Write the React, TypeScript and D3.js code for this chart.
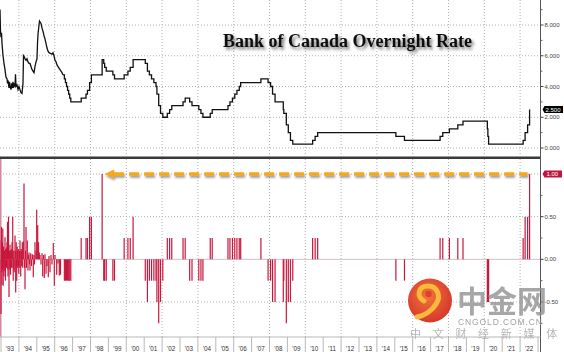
import React from 'react';
import * as d3 from 'd3';

const W = 564;
const H = 352;

// Overnight market rate (pre-target era), decimal years / percent
const marketDates = [
  1992.944, 1992.972, 1993.0, 1993.028, 1993.056, 1993.112, 1993.168, 1993.223, 1993.279, 1993.335,
  1993.363, 1993.391, 1993.447, 1993.475, 1993.503, 1993.559, 1993.587, 1993.615, 1993.67, 1993.698,
  1993.726, 1993.782, 1993.81, 1993.838, 1993.894, 1993.95, 1994.006, 1994.061, 1994.117, 1994.173,
  1994.229, 1994.257, 1994.313, 1994.341, 1994.397, 1994.453, 1994.508, 1994.564, 1994.62, 1994.676,
  1994.732, 1994.788, 1994.844, 1994.899, 1994.955, 1995.011, 1995.039, 1995.067, 1995.123, 1995.151,
  1995.235, 1995.291, 1995.346, 1995.402, 1995.458, 1995.514, 1995.57, 1995.626, 1995.682, 1995.849,
  1995.905, 1995.961, 1996.017, 1996.073, 1996.128, 1996.24, 1996.352, 1996.408, 1996.464,
];
const marketRates = [
  9.0, 7.6, 7.2, 7.5, 6.8, 6.0, 5.5, 5.1, 4.6, 4.5,
  4.2, 4.4, 3.9, 4.3, 4.0, 3.8, 4.2, 3.9, 4.3, 3.9,
  4.2, 4.0, 4.8, 4.0, 4.1, 3.8, 4.0, 3.8, 3.6, 3.55,
  4.2, 6.0, 5.9, 5.8, 5.7, 5.8, 5.6, 5.5, 5.5, 5.3,
  5.1, 5.0, 4.9, 5.3, 5.6, 5.8, 6.8, 7.4, 8.0, 8.25,
  8.1, 7.8, 7.6, 7.3, 7.1, 6.8, 6.5, 6.3, 6.2, 6.1,
  6.2, 6.0, 5.7, 5.6, 5.4, 5.2, 5.0, 4.9, 4.75,
];

// Target overnight rate (step series), decimal years / percent
const targetDates = [
  1996.464, 1996.54, 1996.6, 1996.66, 1996.72, 1996.78, 1996.84, 1996.9,
  1997.48, 1997.75, 1997.83, 1997.95, 1998.05,
  1998.65, 1998.74, 1998.79, 1998.88, 1999.25, 1999.34,
  1999.88, 2000.09, 2000.22, 2000.38,
  2001.06, 2001.18, 2001.29, 2001.41, 2001.54, 2001.66, 2001.71, 2001.81, 2001.91, 2002.04,
  2002.29, 2002.42, 2002.54, 2003.17, 2003.29,
  2003.54, 2003.67, 2004.05, 2004.17, 2004.28,
  2004.69, 2004.8, 2005.68, 2005.79, 2005.93, 2006.06, 2006.18, 2006.31, 2006.39, 2007.52,
  2007.92, 2008.06, 2008.17, 2008.31, 2008.77, 2008.8, 2008.94, 2009.05, 2009.17, 2009.3,
  2010.41, 2010.55, 2010.69,
  2015.06, 2015.54,
  2017.53, 2017.68, 2018.05, 2018.52, 2018.81,
  2020.17, 2020.2, 2020.24,
  2022.17, 2022.28, 2022.42, 2022.53,
];
const targetRates = [
  4.75, 4.5, 4.25, 4.0, 3.75, 3.5, 3.25, 3.0,
  3.25, 3.5, 3.75, 4.25, 4.75,
  5.75, 5.5, 5.25, 5.0, 4.75, 4.5,
  4.75, 5.0, 5.25, 5.75,
  5.5, 5.0, 4.75, 4.5, 4.25, 4.0, 3.5, 2.75, 2.25, 2.0,
  2.25, 2.5, 2.75, 3.0, 3.25,
  3.0, 2.75, 2.5, 2.25, 2.0,
  2.25, 2.5, 2.75, 3.0, 3.25, 3.5, 3.75, 4.0, 4.25, 4.5,
  4.25, 4.0, 3.5, 3.0, 2.5, 2.25, 1.5, 1.0, 0.5, 0.25,
  0.5, 0.75, 1.0,
  0.75, 0.5,
  0.75, 1.0, 1.25, 1.5, 1.75,
  1.25, 0.75, 0.25,
  0.5, 1.0, 1.5, 2.5,
];

// Rate changes (bottom panel), decimal years / percentage points
const barDates = [
  1993.0, 1993.014, 1993.028, 1993.042, 1993.056, 1993.078, 1993.09, 1993.101, 1993.112, 1993.123,
  1993.145, 1993.157, 1993.168, 1993.196, 1993.21, 1993.223, 1993.251, 1993.265, 1993.279, 1993.307,
  1993.321, 1993.335, 1993.363, 1993.377, 1993.391, 1993.419, 1993.433, 1993.447, 1993.475, 1993.489,
  1993.503, 1993.531, 1993.545, 1993.559, 1993.587, 1993.601, 1993.615, 1993.654, 1993.668, 1993.682,
  1993.709, 1993.723, 1993.737, 1993.782, 1993.8, 1993.821, 1993.849, 1993.863, 1993.877, 1993.905,
  1993.919, 1993.933, 1993.966, 1993.98, 1993.994, 1994.034, 1994.048, 1994.061, 1994.101, 1994.115,
  1994.128, 1994.156, 1994.17, 1994.19, 1994.212, 1994.246, 1994.285, 1994.313, 1994.341, 1994.369,
  1994.397, 1994.425, 1994.469, 1994.508, 1994.536, 1994.564, 1994.59, 1994.62, 1994.659, 1994.704,
  1994.743, 1994.77, 1994.804, 1994.844, 1994.87, 1994.899, 1994.955, 1994.994, 1995.05, 1995.095,
  1995.14, 1995.179, 1995.235, 1995.291, 1995.33, 1995.374, 1995.419, 1995.458, 1995.514, 1995.57,
  1995.642, 1995.682, 1995.737, 1995.793, 1995.849, 1995.922, 1995.978, 1996.017, 1996.112, 1996.184,
  1996.257, 1996.324,
  1996.54, 1996.6, 1996.66, 1996.72, 1996.78, 1996.84, 1996.9,
  1997.48, 1997.75, 1997.83, 1997.95, 1998.05,
  1998.65, 1998.74, 1998.79, 1998.88, 1999.25, 1999.34,
  1999.88, 2000.09, 2000.22, 2000.38,
  2001.06, 2001.18, 2001.29, 2001.41, 2001.54, 2001.66, 2001.71, 2001.81, 2001.91, 2002.04,
  2002.29, 2002.42, 2002.54, 2003.17, 2003.29,
  2003.54, 2003.67, 2004.05, 2004.17, 2004.28,
  2004.69, 2004.8, 2005.68, 2005.79, 2005.93, 2006.06, 2006.18, 2006.31, 2006.39, 2007.52,
  2007.92, 2008.06, 2008.17, 2008.31, 2008.77, 2008.8, 2008.94, 2009.05, 2009.17, 2009.3,
  2010.41, 2010.55, 2010.69,
  2015.06, 2015.54,
  2017.53, 2017.68, 2018.05, 2018.52, 2018.81,
  2020.17, 2020.2, 2020.24,
  2022.17, 2022.28, 2022.42, 2022.53,
];
const barValues = [
  -0.64, 0.22, 0.38, -0.15, -0.3, 0.2, -0.12, 0.36, 0.1, -0.31,
  0.15, -0.1, -0.2, 0.1, -0.14, 0.26, -0.25, 0.12, 0.12, -0.1,
  0.14, 0.2, 0.44, -0.12, -0.2, 0.5, 0.1, -0.44, 0.1, -0.12,
  0.17, -0.18, 0.11, 0.08, -0.1, 0.12, 0.2, 0.5, -0.1, -0.25,
  0.1, -0.12, -0.15, 0.28, 0.1, -0.39, 0.2, -0.1, -0.25, 0.15,
  0.1, -0.1, 0.12, -0.08, -0.17, 0.1, -0.1, 0.22, -0.2, 0.1,
  0.12, -0.08, 0.1, 0.2, -0.1, 0.21, 0.89, -0.1, -0.35, 0.1,
  0.38, -0.1, 0.22, -0.13, 0.05, 0.08, -0.06, -0.13, 0.07, -0.08,
  0.06, 0.05, -0.21, 0.05, -0.06, 0.2, 0.1, 0.58, 0.4, 0.2,
  0.08, 0.05, -0.06, 0.07, -0.2, 0.05, -0.22, 0.06, -0.17, -0.08,
  -0.21, 0.04, -0.15, 0.05, -0.06, 0.19, -0.31, 0.05, -0.18, -0.05,
  -0.19, -0.18,
  -0.25, -0.25, -0.25, -0.25, -0.25, -0.25, -0.25,
  0.25, 0.25, 0.25, 0.5, 0.5,
  1.0, -0.25, -0.25, -0.25, -0.25, -0.25,
  0.25, 0.25, 0.25, 0.5,
  -0.25, -0.5, -0.25, -0.25, -0.25, -0.25, -0.5, -0.75, -0.5, -0.25,
  0.25, 0.25, 0.25, 0.25, 0.25,
  -0.25, -0.25, -0.25, -0.25, -0.25,
  0.25, 0.25, 0.25, 0.25, 0.25, 0.25, 0.25, 0.25, 0.25, 0.25,
  -0.25, -0.25, -0.5, -0.5, -0.5, -0.25, -0.75, -0.5, -0.5, -0.25,
  0.25, 0.25, 0.25,
  -0.25, -0.25,
  0.25, 0.25, 0.25, 0.25, 0.25,
  -0.5, -0.5, -0.5,
  0.25, 0.5, 0.5, 1.0,
];

const years = d3.range(1993, 2023);
const yearLabels = years.map((y) => "'" + String(y).slice(2));
const gridYears = d3.range(1994, 2023, 2);
const topTicks = [0, 2, 4, 6, 8];
const topTickLabels = ['0.000', '2.000', '4.000', '6.000', '8.000'];
const topMinor = [1, 3, 5, 7, 9];
const bottomTicks = [-0.5, 0, 0.5];
const bottomTickLabels = ['-0.50', '0.00', '0.50'];
const bottomMinor = [-0.75, -0.25, 0.25, 0.75];
const lastRate = 2.5;
const lastRateLabel = '2.500';
const lastChange = 1.0;
const lastChangeLabel = '1.00';
const title = 'Bank of Canada Overnight Rate';
const wmTitle = '中金网';
const wmSite = 'CNGOLD.COM.CN';
const wmSlogan = ['中', '文', '财', '经', '新', '媒', '体'];

const x = d3.scaleLinear().domain([1993, 2023]).range([1, 538]);
const yT = d3.scaleLinear().domain([0, 8]).range([148, 25]);
const yB = d3.scaleLinear().domain([-0.5, 1.0]).range([302, 174]);

const AX = 540.5;
const TOP_BOTTOM = 156;
const BOT_TOP = 159;
const BOT_BOTTOM = 337;

export default function App() {
  const marketLine = d3
    .line<number>()
    .x((_, i) => x(marketDates[i]))
    .y((d) => yT(d))(marketRates) as string;
  const targetLine = d3
    .line<number>()
    .x((_, i) => x(targetDates[i]))
    .y((d) => yT(d))
    .curve(d3.curveStepAfter)(targetRates) as string;

  const tickFont = { fontFamily: 'Liberation Sans, Arial, sans-serif', fontSize: 6, fill: '#444' };
  const lastX = x(barDates[barDates.length - 1]);
  const spikeX = x(1998.65);

  return (
    <svg width={W} height={H} style={{ position: 'absolute', left: 0, top: 0, background: '#fff' }}>
      <defs>
        <filter id="tshadow" x="-10%" y="-30%" width="130%" height="180%">
          <feDropShadow dx="2" dy="2.5" stdDeviation="1.5" floodColor="#000" floodOpacity="0.55" />
        </filter>
        <filter id="ashadow" x="-5%" y="-100%" width="110%" height="400%">
          <feDropShadow dx="1" dy="2" stdDeviation="1" floodColor="#555" floodOpacity="0.6" />
        </filter>
        <radialGradient id="logoGrad" cx="45%" cy="40%" r="60%">
          <stop offset="0%" stopColor="#f26a2a" />
          <stop offset="100%" stopColor="#d2281c" />
        </radialGradient>
      </defs>
      <rect width={W} height={H} fill="#fff" />

      {/* top grid */}
      {topTicks.map((t) => (
        <line key={'th' + t} x1={0} x2={AX} y1={yT(t)} y2={yT(t)} stroke="#b0b0b0" strokeDasharray="1,2" />
      ))}
      {gridYears.map((g) => (
        <line key={'tv' + g} x1={x(g)} x2={x(g)} y1={0} y2={TOP_BOTTOM} stroke="#b0b0b0" strokeDasharray="1,2" />
      ))}

      {/* bottom grid */}
      {[-0.5, 0.5, 1.0].map((t) => (
        <line key={'bh' + t} x1={0} x2={AX} y1={yB(t)} y2={yB(t)} stroke="#b0b0b0" strokeDasharray="1,2" />
      ))}
      {gridYears.map((g) => (
        <line key={'bv' + g} x1={x(g)} x2={x(g)} y1={BOT_TOP} y2={BOT_BOTTOM} stroke="#b0b0b0" strokeDasharray="1,2" />
      ))}
      <line x1={0} x2={AX} y1={yB(0)} y2={yB(0)} stroke="#d9bcc4" strokeWidth={1} />

      {/* line */}
      <path d={marketLine} fill="none" stroke="#111" strokeWidth={1.3} />
      <path d={targetLine} fill="none" stroke="#111" strokeWidth={1.3} />

      {/* bars */}
      <line x1={0.75} x2={0.75} y1={BOT_TOP} y2={BOT_BOTTOM} stroke="#d48a9a" strokeWidth={1.5} />
      {barDates.map((d, i) => (
        <line
          key={'b' + i}
          x1={x(d)}
          x2={x(d)}
          y1={yB(0)}
          y2={yB(barValues[i])}
          stroke="#c8173d"
          strokeWidth={1.2}
        />
      ))}

      {/* separator */}
      <rect x={0} y={156.5} width={AX} height={2.5} fill="#3a3a3a" />

      {/* right axis */}
      <line x1={AX} x2={AX} y1={0} y2={H} stroke="#555" strokeWidth={1} />
      {topTicks.map((t, i) => (
        <g key={'tt' + t}>
          <line x1={AX} x2={AX + 3} y1={yT(t)} y2={yT(t)} stroke="#444" />
          <text x={AX + 4} y={yT(t) + 2} {...tickFont}>
            {topTickLabels[i]}
          </text>
        </g>
      ))}
      {topMinor.map((t) => (
        <line key={'tm' + t} x1={AX} x2={AX + 2} y1={yT(t)} y2={yT(t)} stroke="#666" />
      ))}
      {bottomTicks.map((t, i) => (
        <g key={'bt' + t}>
          <line x1={AX} x2={AX + 3} y1={yB(t)} y2={yB(t)} stroke="#444" />
          <text x={AX + 4} y={yB(t) + 2} {...tickFont}>
            {bottomTickLabels[i]}
          </text>
        </g>
      ))}
      {bottomMinor.map((t) => (
        <line key={'bm' + t} x1={AX} x2={AX + 2} y1={yB(t)} y2={yB(t)} stroke="#666" />
      ))}

      {/* last value tags */}
      <path
        d={`M${AX + 2},${yT(lastRate)} L${AX + 4},${yT(lastRate) - 3.5} L${W - 1},${yT(lastRate) - 3.5} L${W - 1},${yT(lastRate) + 3.5} L${AX + 4},${yT(lastRate) + 3.5} Z`}
        fill="#000"
      />
      <text x={AX + 5} y={yT(lastRate) + 2.2} {...tickFont} fill="#fff">
        {lastRateLabel}
      </text>
      <path
        d={`M${AX + 2},${yB(lastChange)} L${AX + 4},${yB(lastChange) - 3.5} L${W - 2},${yB(lastChange) - 3.5} L${W - 2},${yB(lastChange) + 3.5} L${AX + 4},${yB(lastChange) + 3.5} Z`}
        fill="#c0143c"
      />
      <text x={AX + 6} y={yB(lastChange) + 2.2} {...tickFont} fill="#fff">
        {lastChangeLabel}
      </text>

      {/* x axis */}
      <line x1={0} x2={AX} y1={BOT_BOTTOM} y2={BOT_BOTTOM} stroke="#b8b8b8" />
      {years.concat([2023]).map((yv) => (
        <line key={'xs' + yv} x1={x(yv)} x2={x(yv)} y1={BOT_BOTTOM} y2={H} stroke="#b8b8b8" />
      ))}
      {years.map((yv, i) => (
        <text
          key={'xl' + yv}
          x={x(yv + 0.5)}
          y={350.5}
          textAnchor="middle"
          {...tickFont}
          fontSize={6.3}
          fill="#333"
        >
          {yearLabels[i]}
        </text>
      ))}

      {/* title */}
      <text
        x={223}
        y={47}
        fontFamily="Liberation Serif, Times New Roman, serif"
        fontWeight="bold"
        fontSize={18}
        fill="#111"
        filter="url(#tshadow)"
      >
        {title}
      </text>

      {/* orange arrow */}
      <g filter="url(#ashadow)">
        <line
          x1={spikeX + 12}
          x2={lastX - 2}
          y1={yB(1.0)}
          y2={yB(1.0)}
          stroke="#f5a81c"
          strokeWidth={3.5}
          strokeDasharray="10,5"
        />
        <path
          d={`M${spikeX + 2.5},${yB(1.0)} L${spikeX + 12},${yB(1.0) - 4.5} L${spikeX + 12},${yB(1.0) + 4.5} Z`}
          fill="#f5a81c"
        />
      </g>

      {/* watermark */}
      <g opacity={0.92}>
        <circle cx={430} cy={300.5} r={22} fill="url(#logoGrad)" />
        <path
          d="M424,301 C416,297 418,286 428,286 C438,286 441,297 436,304 C432,311 424,316 417,317"
          fill="none"
          stroke="#f7b52a"
          strokeWidth={5}
          strokeLinecap="round"
        />
        <circle cx={428.5} cy={294} r={3.2} fill="#d8341f" />
        <text
          x={457}
          y={312}
          fontFamily="Noto Sans CJK SC, sans-serif"
          fontWeight="bold"
          fontSize={30}
          fill="#8f8f8f"
          opacity={0.85}
        >
          {wmTitle}
        </text>
        <text
          x={458}
          y={324.5}
          fontFamily="Liberation Sans, Arial, sans-serif"
          fontSize={8.5}
          letterSpacing={0.9}
          fill="#9a9a9a"
        >
          {wmSite}
        </text>
        {wmSlogan.map((c, i) => (
          <text
            key={'wm' + i}
            x={415.5 + i * 22.7}
            y={338}
            textAnchor="middle"
            fontFamily="Noto Sans CJK SC, sans-serif"
            fontSize={11}
            fill="#b0b0b0"
          >
            {c}
          </text>
        ))}
      </g>
    </svg>
  );
}
